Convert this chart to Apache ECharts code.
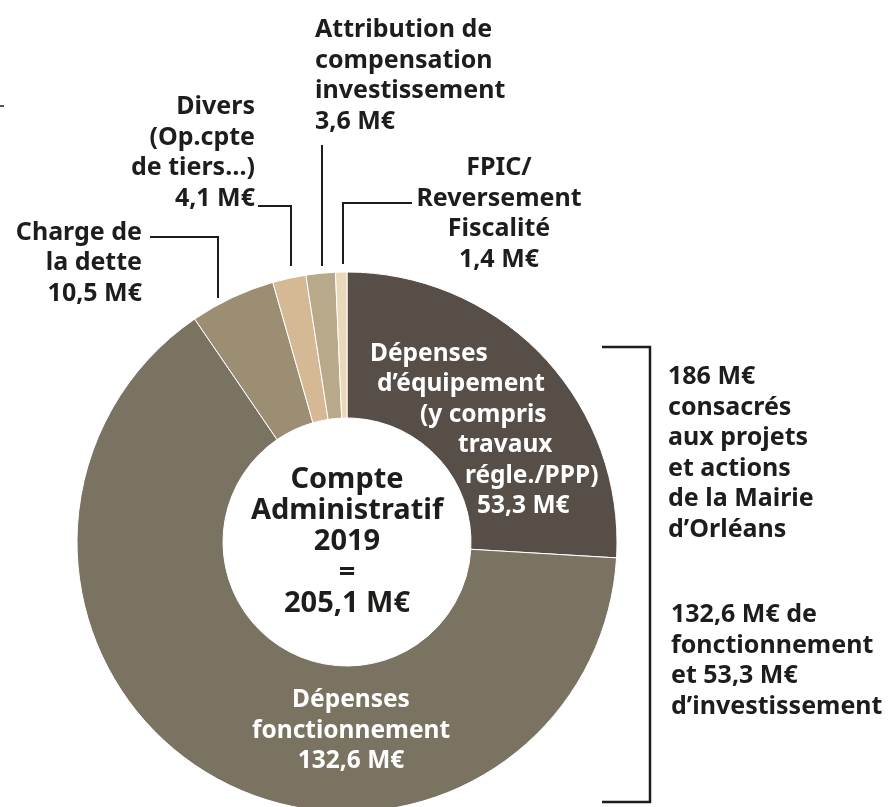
<!DOCTYPE html>
<html>
<head>
<meta charset="utf-8">
<title>Compte Administratif 2019</title>
<script src="https://cdn.jsdelivr.net/npm/echarts@6/dist/echarts.min.js"></script>
<style>
  html, body { margin: 0; padding: 0; background: #fff; }
  #chart { width: 888px; height: 807px; }
</style>
</head>
<body>
<div id="chart"></div>
<script>
// données (M€)
var categories = [
  'Dépenses\nd’équipement\n(y compris\ntravaux\nrégle./PPP)',
  'Dépenses\nfonctionnement',
  'Charge de\nla dette',
  'Divers\n(Op.cpte\nde tiers…)',
  'Attribution de\ncompensation\ninvestissement',
  'FPIC/\nReversement\nFiscalité'
];
var values = [53.3, 132.6, 10.5, 4.1, 3.6, 1.4];
var colors = ['#574e47', '#7a7361', '#9b8e73', '#d4b994', '#b7a989', '#ebd8bb'];
var centerText = ['Compte', 'Administratif', '2019', '=', '205,1 M€'];
var sideText1 = ['186 M€', 'consacrés', 'aux projets', 'et actions', 'de la Mairie', 'd’Orléans'];
var sideText2 = ['132,6 M€ de', 'fonctionnement', 'et 53,3 M€', 'd’investissement'];

var INK = '#1d1d1b';
var FONT = '"Noto Sans", "Open Sans", sans-serif';
var FS = 25;

// placement des étiquettes (x, y, alignement, ligne de rappel)
var labelPos = [
  { x: 370, y: 430, align: 'left', line: null },
  { x: 351, y: 731, align: 'center', line: null },
  { x: 142, y: 263, align: 'right', line: [[218, 298], [218, 237], [150, 237]] },
  { x: 255, y: 153, align: 'right', line: [[291, 266], [291, 206], [258, 206]] },
  { x: 315, y: 76, align: 'left', line: [[322, 266], [322, 145]] },
  { x: 499, y: 214, align: 'center', line: [[343, 264], [343, 203], [412, 203]] }
];
// décalages des lignes du libellé équipement (suit l'anneau)
var equipPad = [0, 7, 50, 88, 95, 107];

function fmt(v) {
  return String(v).replace('.', ',') + ' M€';
}

var rich = {};
equipPad.forEach(function (p, i) {
  rich['l' + i] = {
    color: '#fff', fontSize: 24.5, fontWeight: 'bold', fontFamily: FONT,
    lineHeight: 30.5, padding: [0, 0, 0, p]
  };
});

var data = values.map(function (v, i) {
  var inside = i < 2;
  return {
    name: categories[i],
    value: v,
    itemStyle: { color: colors[i] },
    label: { color: inside ? '#fff' : INK, fontSize: inside ? 24.5 : FS },
    labelLine: { show: !inside }
  };
});

var chart = echarts.init(document.getElementById('chart'));
chart.setOption({
  animation: false,
  series: [{
    type: 'pie',
    center: [347, 542],
    radius: [124, 270],
    startAngle: 90,
    clockwise: true,
    avoidLabelOverlap: false,
    itemStyle: { borderColor: '#fff', borderWidth: 1 },
    label: {
      show: true,
      position: 'outside',
      fontSize: FS,
      fontWeight: 'bold',
      fontFamily: FONT,
      lineHeight: 30.5,
      rich: rich,
      formatter: function (p) {
        var lines = (p.name + '\n' + fmt(p.value)).split('\n');
        if (p.dataIndex === 0) {
          return lines.map(function (l, i) { return '{l' + i + '|' + l + '}'; }).join('\n');
        }
        return lines.join('\n');
      }
    },
    labelLine: {
      show: true,
      length: 10,
      length2: 10,
      lineStyle: { color: INK, width: 2 }
    },
    labelLayout: function (params) {
      var p = labelPos[params.dataIndex];
      var out = { x: p.x, y: p.y, align: p.align, verticalAlign: 'middle' };
      if (p.line) out.labelLinePoints = p.line;
      return out;
    },
    emphasis: { disabled: true },
    data: data
  }],
  graphic: [
    {
      type: 'text', x: 347, y: 542,
      style: {
        text: centerText.join('\n'), fill: INK, font: 'bold 29px ' + FONT,
        lineHeight: 31, align: 'center', verticalAlign: 'middle'
      }
    },
    {
      type: 'text', x: 668, y: 362,
      style: {
        text: sideText1.join('\n'), fill: INK, font: 'bold ' + FS + 'px ' + FONT,
        lineHeight: 30.5, align: 'left', verticalAlign: 'top'
      }
    },
    {
      type: 'text', x: 671, y: 600,
      style: {
        text: sideText2.join('\n'), fill: INK, font: 'bold ' + FS + 'px ' + FONT,
        lineHeight: 30.5, align: 'left', verticalAlign: 'top'
      }
    },
    {
      type: 'polyline',
      shape: { points: [[602, 347], [650, 347], [650, 802], [602, 802]] },
      style: { stroke: INK, lineWidth: 2.5, fill: null }
    },
    {
      type: 'line',
      shape: { x1: 0, y1: 106, x2: 4, y2: 106 },
      style: { stroke: INK, lineWidth: 1.5 }
    }
  ]
});
</script>
</body>
</html>
